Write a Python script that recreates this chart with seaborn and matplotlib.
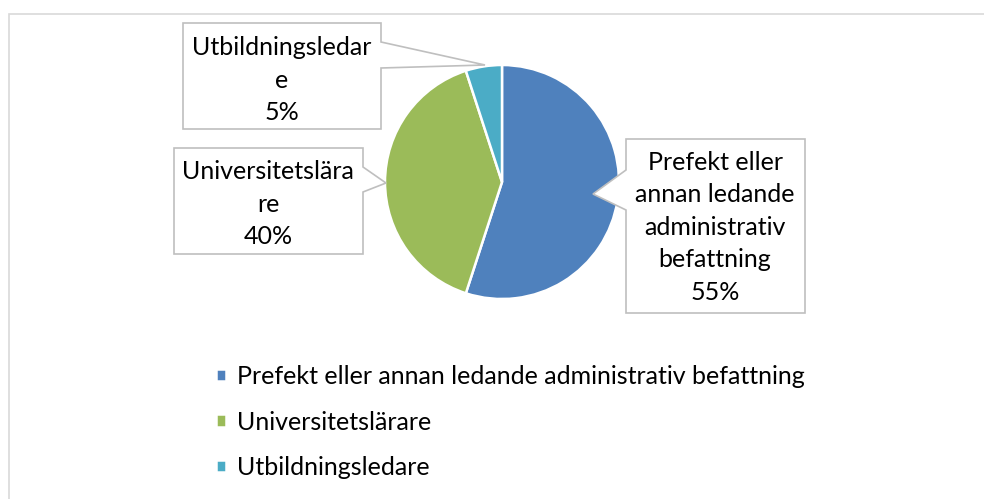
import matplotlib
matplotlib.use("Agg")
import matplotlib.pyplot as plt
from matplotlib.patches import Polygon, Rectangle
import seaborn as sns

# data
categories = ["Prefekt eller annan ledande administrativ befattning",
              "Universitetslärare",
              "Utbildningsledare"]
counts = [11, 8, 1]
callout_text = ["Prefekt eller\nannan ledande\nadministrativ\nbefattning\n55%",
                "Universitetslära\nre\n40%",
                "Utbildningsledar\ne\n5%"]
colors = ["#4F81BD", "#9BBB59", "#4BACC6"]

sns.set_theme(style="white")
plt.rcParams['font.family'] = ['Lato', 'DejaVu Sans']

W, H = 984, 499
fig = plt.figure(figsize=(W / 100, H / 100), dpi=100)
ax = fig.add_axes([0, 0, 1, 1])

def up(y):
    return H - y

# outer chart border (cut off right and bottom)
ax.add_patch(Rectangle((8.5, -5), W, up(13.5) + 5, fill=False,
                       edgecolor="#D9D9D9", linewidth=1.2))

wedges, _ = ax.pie(counts, colors=colors, startangle=90, counterclock=False,
                   center=(502, up(182)), radius=117, frame=True,
                   wedgeprops=dict(edgecolor="white", linewidth=1.8))
ax.set_xlim(0, W)
ax.set_ylim(0, H)
ax.set_aspect("equal")
ax.axis("off")

# callout bubbles: box outline with pointer, in pixel coords (y down)
bubbles = [
    [(626, 139), (805, 139), (805, 313), (626, 313), (626, 210), (593, 194), (626, 170)],
    [(174, 148), (363, 148), (363, 167), (386, 183), (363, 192), (363, 254), (174, 254)],
    [(183, 23), (381, 23), (381, 42), (485, 65), (381, 68), (381, 129), (183, 129)],
]
text_pos = [(715, 227), (268, 204), (282, 80)]
for pts, txt, (tx, ty) in zip(bubbles, callout_text, text_pos):
    ax.add_patch(Polygon([(x, up(y)) for x, y in pts], closed=True,
                         facecolor="white", edgecolor="#BFBFBF", linewidth=1.2))
    ax.text(tx, up(ty), txt, ha="center", va="center", multialignment="center",
            fontsize=18, color="#000000", linespacing=1.5)

leg = ax.legend(wedges, categories, loc="upper left",
                bbox_to_anchor=(216, up(365)), bbox_transform=ax.transData,
                frameon=False, fontsize=18, borderpad=0, borderaxespad=0,
                handlelength=0.38, handleheight=0.38, handletextpad=0.45,
                labelspacing=0.9)
for t in leg.get_texts():
    t.set_color("#000000")

fig.savefig("out.png", dpi=100, facecolor="white")
